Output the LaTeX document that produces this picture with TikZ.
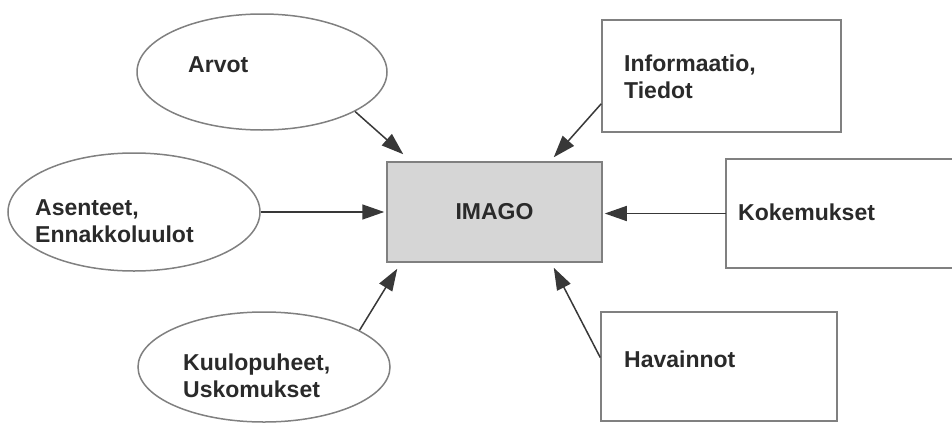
\documentclass[tikz,border=0pt]{standalone}
\usepackage{fontspec}
\setmainfont{Liberation Sans}
\usetikzlibrary{arrows.meta,calc,shapes.geometric}
\definecolor{edgegray}{HTML}{808080}
\definecolor{arrowgray}{HTML}{383838}
\definecolor{boxfill}{HTML}{D6D6D6}
\definecolor{txt}{HTML}{2A2A2A}
\tikzset{
  ell/.style={ellipse, draw=edgegray, line width=1.5pt, inner sep=0pt},
  rbox/.style={rectangle, draw=edgegray, line width=1.5pt, inner sep=0pt},
  lbl/.style={anchor=base west, inner sep=0pt, font=\fontsize{23}{27}\selectfont\bfseries, text=txt, align=left},
  feed/.style={draw=arrowgray, line width=1.5pt, -{Triangle[length=22pt,width=15pt]}},
}
\begin{document}
\begin{tikzpicture}[x=1pt,y=-1pt]
\useasboundingbox (0,0) rectangle (952,423);
% shapes
\node[ell, minimum width=250pt, minimum height=116pt] (arvot) at (262,72) {};
\node[ell, minimum width=252pt, minimum height=118pt] (asen) at (134,212) {};
\node[ell, minimum width=252pt, minimum height=110pt] (kuulo) at (264,367) {};
\node[rbox, fill=boxfill, minimum width=215pt, minimum height=100pt] (imago) at (494.5,212) {};
\node[rbox, minimum width=239pt, minimum height=112pt] (info) at (721.5,76) {};
\node[rbox, minimum width=236pt, minimum height=109pt] (hav) at (719,366.5) {};
\node[inner sep=0pt, minimum width=226pt, minimum height=109pt] (koke) at (839,213.5) {};
\draw[edgegray, line width=1.5pt] (koke.north east) -- (koke.north west) -- (koke.south west) -- (koke.south east);
% texts (base = last line baseline)
\node[lbl] (tarvot) at (188,72) {Arvot};
\node[lbl] (tasen) at (35,242) {Asenteet,\\Ennakkoluulot};
\node[lbl] (tkuulo) at (183,397) {Kuulopuheet,\\Uskomukset};
\node[lbl, anchor=center] (timago) at (494.5,212) {IMAGO};
\node[lbl] (tinfo) at (624,98) {Informaatio,\\Tiedot};
\node[lbl] (tkoke) at (738,220) {Kokemukset};
\node[lbl] (thav) at (624,367) {Havainnot};
% connectors
\draw[feed] (arvot.-23) -- ($(imago.north west)+(17,-7)$);
\draw[feed] ($(info.south west)+(0,-29)$) -- ($(imago.north east)+(-49,-4)$);
\draw[feed] (asen.east) -- ($(imago.west)+(-2,0)$);
\draw[feed] (koke.west) -- ($(koke.west -| imago.east)+(2,0)$);
\draw[feed] (kuulo.21) -- ($(imago.south west)+(11,6)$);
\draw[feed] ($(hav.west)+(0,-9)$) -- ($(imago.south east)+(-49,5)$);
\end{tikzpicture}
\end{document}
